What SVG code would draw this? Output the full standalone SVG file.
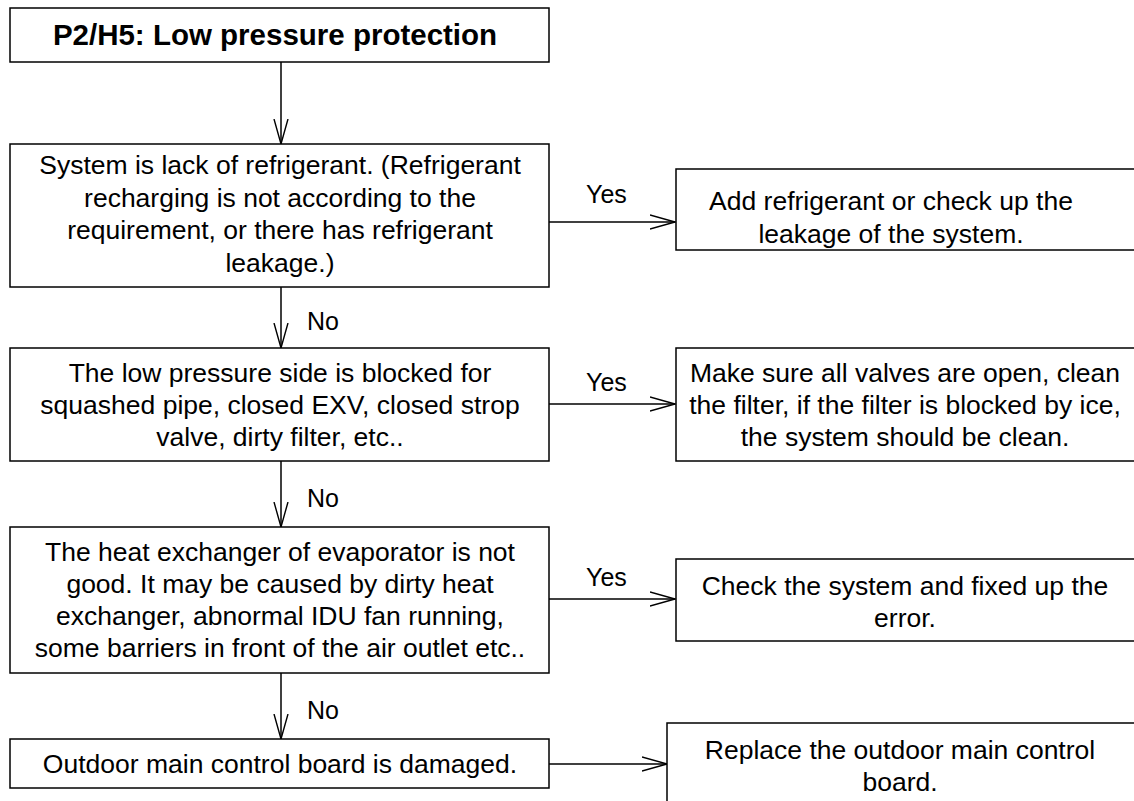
<svg xmlns="http://www.w3.org/2000/svg" width="1134" height="801" viewBox="0 0 1134 801">
<defs>
<style>
.box{fill:#fff;stroke:#000;stroke-width:1.5}
.t{font-family:"Liberation Sans",Arial,sans-serif;font-size:26.5px;fill:#000;text-anchor:middle}
.title{font-family:"Liberation Sans",Arial,sans-serif;font-size:29.5px;font-weight:bold;fill:#000;text-anchor:middle}
.lbl{font-family:"Liberation Sans",Arial,sans-serif;font-size:25px;fill:#000}
.c{stroke:#000;stroke-width:1.5;fill:none}
</style>
<marker id="ah" viewBox="0 0 26 16" refX="25" refY="8" markerWidth="26" markerHeight="16" markerUnits="userSpaceOnUse" orient="auto">
<path d="M0,1 L25,8 L0,15" fill="none" stroke="#000" stroke-width="1.4"/>
</marker>
</defs>
<rect width="1134" height="801" fill="#fff"/>
<g id="connectors">
<line class="c" x1="281" y1="62" x2="281" y2="144" marker-end="url(#ah)"/>
<line class="c" x1="281" y1="287" x2="281" y2="348" marker-end="url(#ah)"/>
<line class="c" x1="281" y1="461" x2="281" y2="527" marker-end="url(#ah)"/>
<line class="c" x1="281" y1="673" x2="281" y2="739" marker-end="url(#ah)"/>
<line class="c" x1="549" y1="222" x2="675" y2="222" marker-end="url(#ah)"/>
<line class="c" x1="549" y1="404" x2="675" y2="404" marker-end="url(#ah)"/>
<line class="c" x1="549" y1="599" x2="675" y2="599" marker-end="url(#ah)"/>
<line class="c" x1="549" y1="764" x2="667" y2="764" marker-end="url(#ah)"/>
<text class="lbl" x="586" y="203">Yes</text>
<text class="lbl" x="586" y="391">Yes</text>
<text class="lbl" x="586" y="586">Yes</text>
<text class="lbl" x="307" y="330">No</text>
<text class="lbl" x="307" y="507">No</text>
<text class="lbl" x="307" y="719">No</text>
</g>
<g id="title">
<rect class="box" x="10" y="8" width="539" height="54"/>
<text class="title" x="275" y="45">P2/H5: Low pressure protection</text>
</g>
<g id="q1">
<rect class="box" x="10" y="144" width="539" height="143"/>
<text class="t" x="280" y="174">System is lack of refrigerant. (Refrigerant</text>
<text class="t" x="280" y="207">recharging is not according to the</text>
<text class="t" x="280" y="239">requirement, or there has refrigerant</text>
<text class="t" x="280" y="272">leakage.)</text>
</g>
<g id="a1">
<rect class="box" x="676" y="169" width="470" height="81"/>
<text class="t" x="891" y="210">Add refrigerant or check up the</text>
<text class="t" x="891" y="243">leakage of the system.</text>
</g>
<g id="q2">
<rect class="box" x="10" y="348" width="539" height="113"/>
<text class="t" x="280" y="382">The low pressure side is blocked for</text>
<text class="t" x="280" y="414">squashed pipe, closed EXV, closed strop</text>
<text class="t" x="280" y="446">valve, dirty filter, etc..</text>
</g>
<g id="a2">
<rect class="box" x="676" y="348" width="470" height="113"/>
<text class="t" x="905" y="382">Make sure all valves are open, clean</text>
<text class="t" x="905" y="414">the filter, if the filter is blocked by ice,</text>
<text class="t" x="905" y="446">the system should be clean.</text>
</g>
<g id="q3">
<rect class="box" x="10" y="527" width="539" height="146"/>
<text class="t" x="280" y="561">The heat exchanger of evaporator is not</text>
<text class="t" x="280" y="593">good. It may be caused by dirty heat</text>
<text class="t" x="280" y="625">exchanger, abnormal IDU fan running,</text>
<text class="t" x="280" y="657">some barriers in front of the air outlet etc..</text>
</g>
<g id="a3">
<rect class="box" x="676" y="559" width="470" height="82"/>
<text class="t" x="905" y="595">Check the system and fixed up the</text>
<text class="t" x="905" y="627">error.</text>
</g>
<g id="q4">
<rect class="box" x="10" y="739" width="539" height="49"/>
<text class="t" x="280" y="773">Outdoor main control board is damaged.</text>
</g>
<g id="a4">
<rect class="box" x="667" y="723" width="479" height="100"/>
<text class="t" x="900" y="759">Replace the outdoor main control</text>
<text class="t" x="900" y="791">board.</text>
</g>
</svg>
